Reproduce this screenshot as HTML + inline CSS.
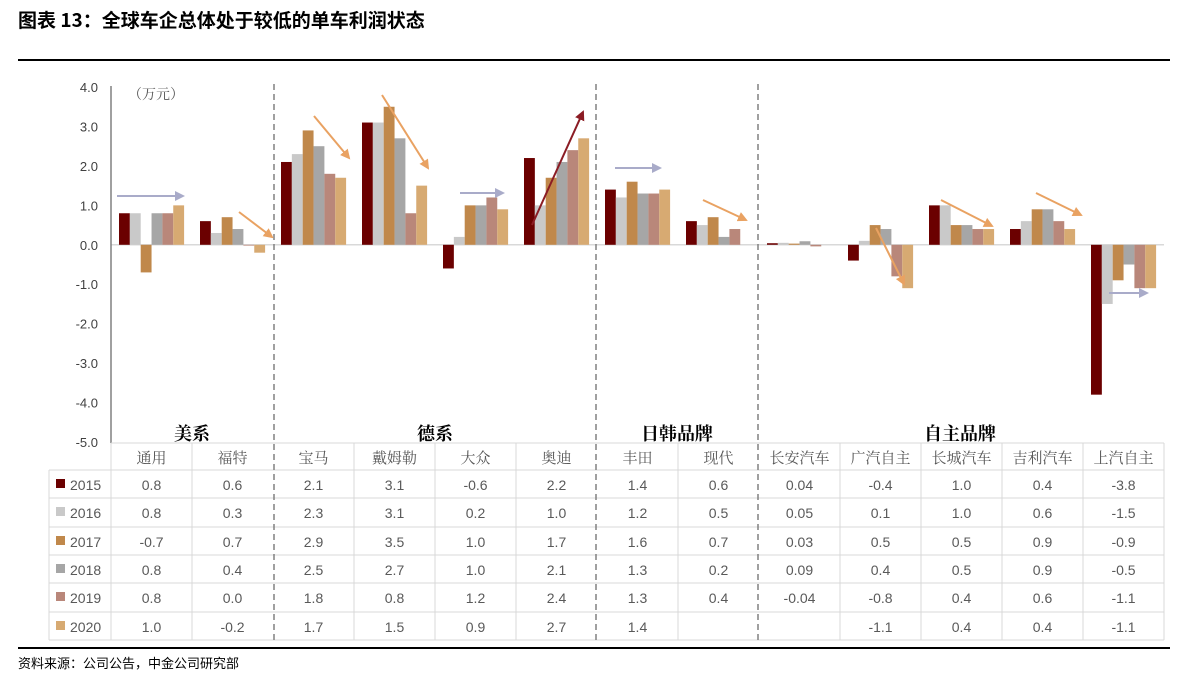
<!DOCTYPE html>
<html><head><meta charset="utf-8">
<style>
html,body{margin:0;padding:0;background:#fff;}
svg{display:block;}
</style></head>
<body>
<svg id="s" width="1200" height="676" xmlns="http://www.w3.org/2000/svg" font-family="Liberation Sans, Noto Sans CJK SC, sans-serif">
<defs>
<marker id="ag" markerWidth="10" markerHeight="10" refX="8" refY="5" orient="auto" markerUnits="userSpaceOnUse"><path d="M0,0 L10,5 L0,10 z" fill="#a9abc9"/></marker>
<marker id="ao" markerWidth="10" markerHeight="10" refX="8" refY="5" orient="auto" markerUnits="userSpaceOnUse"><path d="M0,0 L10,5 L0,10 z" fill="#e9a262"/></marker>
<marker id="ar" markerWidth="10" markerHeight="10" refX="8" refY="5" orient="auto" markerUnits="userSpaceOnUse"><path d="M0,0 L10,5 L0,10 z" fill="#8b1c24"/></marker>
</defs>
<text x="18" y="27" font-size="19" font-weight="bold" font-family="Noto Sans CJK SC, sans-serif" fill="#000">图表 13：全球车企总体处于较低的单车利润状态</text>
<rect x="18" y="59" width="1152" height="2" fill="#000"/>
<rect x="18" y="647" width="1152" height="2" fill="#000"/>
<text x="18" y="668" font-size="13" font-family="Noto Sans CJK SC, sans-serif" fill="#000">资料来源：公司公告，中金公司研究部</text>
<g id="g"></g>
</svg>
<script>
var g=document.getElementById('g'),NS='http://www.w3.org/2000/svg';
function el(t,a,txt){var e=document.createElementNS(NS,t);for(var k in a)e.setAttribute(k,a[k]);if(txt!=null)e.textContent=txt;g.appendChild(e);return e;}
var Z=244.8,S=39.44,X0=111,CW=81.0;
// y ticks
for(var v=4;v>=-5;v--){var y=Z-v*S;el('text',{x:98,y:y+5,'font-size':13,'text-anchor':'end',fill:'#404040'},v.toFixed(1));}
el('text',{x:128,y:99,'font-size':14,fill:'#595959','font-family':'Noto Serif CJK SC, serif'},'（万元）');
var cats=['通用','福特','宝马','戴姆勒','大众','奥迪','丰田','现代','长安汽车','广汽自主','长城汽车','吉利汽车','上汽自主'];
var data=[
[0.8,0.6,2.1,3.1,-0.6,2.2,1.4,0.6,0.04,-0.4,1.0,0.4,-3.8],
[0.8,0.3,2.3,3.1,0.2,1.0,1.2,0.5,0.05,0.1,1.0,0.6,-1.5],
[-0.7,0.7,2.9,3.5,1.0,1.7,1.6,0.7,0.03,0.5,0.5,0.9,-0.9],
[0.8,0.4,2.5,2.7,1.0,2.1,1.3,0.2,0.09,0.4,0.5,0.9,-0.5],
[0.8,0.0,1.8,0.8,1.2,2.4,1.3,0.4,-0.04,-0.8,0.4,0.6,-1.1],
[1.0,-0.2,1.7,1.5,0.9,2.7,1.4,null,null,-1.1,0.4,0.4,-1.1]];
var txt=[
['0.8','0.6','2.1','3.1','-0.6','2.2','1.4','0.6','0.04','-0.4','1.0','0.4','-3.8'],
['0.8','0.3','2.3','3.1','0.2','1.0','1.2','0.5','0.05','0.1','1.0','0.6','-1.5'],
['-0.7','0.7','2.9','3.5','1.0','1.7','1.6','0.7','0.03','0.5','0.5','0.9','-0.9'],
['0.8','0.4','2.5','2.7','1.0','2.1','1.3','0.2','0.09','0.4','0.5','0.9','-0.5'],
['0.8','0.0','1.8','0.8','1.2','2.4','1.3','0.4','-0.04','-0.8','0.4','0.6','-1.1'],
['1.0','-0.2','1.7','1.5','0.9','2.7','1.4','','','-1.1','0.4','0.4','-1.1']];
var cols=['#6b0000','#c9c9c9','#c0884b','#a6a6a6','#b9877a','#d7aa72'];
var yrs=['2015','2016','2017','2018','2019','2020'];
// zero line
el('line',{x1:X0,y1:Z,x2:1164,y2:Z,stroke:'#d9d9d9','stroke-width':1.5});
// bars
for(var s=0;s<6;s++)for(var c=0;c<13;c++){var v=data[s][c];if(v==null)continue;
var x=X0+c*CW+8+s*10.85,h=Math.abs(v)*S,y=v>=0?Z-h:Z;el('rect',{x:x,y:y,width:10.85,height:Math.max(h,0.8),fill:cols[s]});}
// axis
el('line',{x1:111,y1:86,x2:111,y2:443,stroke:'#808080','stroke-width':1.5});
// table
var rows=[443,470,498,527,555,583,612,640];
var tc='#d9d9d9';
el('line',{x1:111,y1:443,x2:1164,y2:443,stroke:tc});
for(var i=1;i<rows.length;i++)el('line',{x1:49,y1:rows[i],x2:1164,y2:rows[i],stroke:tc});
el('line',{x1:49,y1:470,x2:49,y2:640,stroke:tc});
for(var c=0;c<=13;c++){var x=X0+c*CW;if(c==2||c==6||c==8)continue;el('line',{x1:x,y1:443,x2:x,y2:640,stroke:tc});}
for(var c=0;c<13;c++){var cx=X0+c*CW+CW/2;
el('text',{x:cx,y:463,'font-size':15,'text-anchor':'middle',fill:'#595959','font-family':'Noto Serif CJK SC, serif'},cats[c]);
for(var s=0;s<6;s++)el('text',{x:cx,y:rows[s+1]+20,'font-size':14,'text-anchor':'middle',fill:'#595959'},txt[s][c]);}
for(var s=0;s<6;s++){var y=rows[s+1];el('rect',{x:56,y:y+9,width:9,height:9,fill:cols[s]});
el('text',{x:70,y:y+20,'font-size':14,fill:'#595959'},yrs[s]);}
// dashed separators
[274,596,758].forEach(function(x){el('line',{x1:x,y1:84,x2:x,y2:640,stroke:'#808080','stroke-width':1.5,'stroke-dasharray':'6,4'});});
// group labels
[[192,'美系'],[435,'德系'],[677,'日韩品牌'],[960,'自主品牌']].forEach(function(a){
el('text',{x:a[0],y:440,'font-size':18,'font-weight':'bold','text-anchor':'middle',fill:'#000','font-family':'Noto Serif CJK SC, serif'},a[1]);});
// arrows
var A=[[117,196,183,196,'g'],[239,212,272,237,'o'],[314,116,349,158,'o'],[382,95,428,168,'o'],[460,193,503,193,'g'],
[532,225,583,112,'r'],[615,168,660,168,'g'],[703,200,746,220,'o'],[876,228,904,284,'o'],[941,200,992,226,'o'],
[1036,193,1081,215,'o'],[1109,293,1147,293,'g']];
var ac={g:'#a9abc9',o:'#e9a262',r:'#8b1c24'};
A.forEach(function(a){el('line',{x1:a[0],y1:a[1],x2:a[2],y2:a[3],stroke:ac[a[4]],'stroke-width':2,'marker-end':'url(#a'+a[4]+')'});});
</script>
</body></html>
